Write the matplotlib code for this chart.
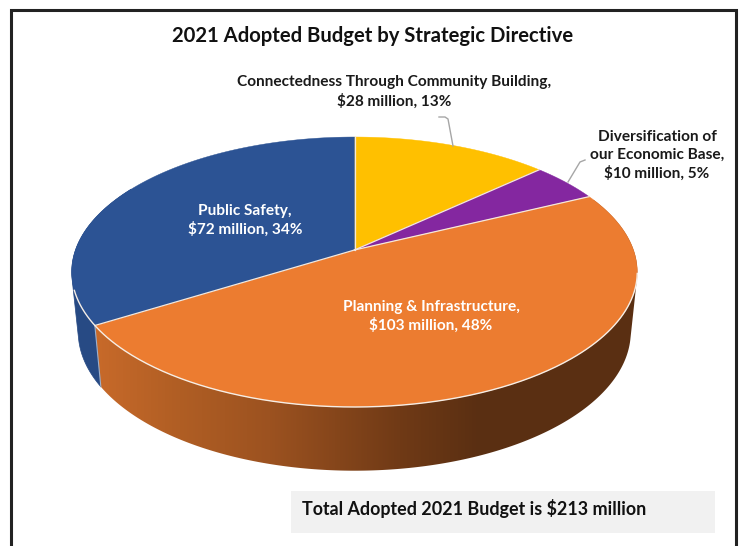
"""2021 adopted budget pie, drawn as a tilted 3D pie by hand (matplotlib has no 3D pie)."""

import matplotlib
matplotlib.use("Agg")
import matplotlib.pyplot as plt
from matplotlib.patches import Polygon, Rectangle
import numpy as np

plt.rcParams.update({
    "font.family": ["Lato", "DejaVu Sans"],
    "font.weight": "bold",
})

# data, clockwise from 12 o'clock
names = ["Connectedness Through Community Building",
         "Diversification of\nour Economic Base",
         "Planning & Infrastructure",
         "Public Safety"]
millions = [28, 10, 103, 72]
percents = [13, 5, 48, 34]
top_colors = ["#FFC000", "#8427A0", "#EC7C30", "#2C5394"]
blue_side = "#274A84"

# orange side gets a left to right shading
grad_x = [95, 180, 270, 400, 480, 640]
grad_r = [200, 176, 156, 112, 90, 90]
grad_g = [106, 94, 82, 58, 47, 47]
grad_b = [42, 36, 32, 22, 18, 18]

# projection of the unit circle, fitted on the picture
CX, CY = 354.5, 250
A, B, K = 279, 131.4, 0.163
# bottom rim
SX, SY, Y0 = 0.977, 1.03, 309


def top_pts(theta):
    u, v = np.sin(theta), np.cos(theta)
    d = 1 + K * v
    return CX + A * u / d, CY - B * v / d


def bottom_pts(theta):
    u, v = np.sin(theta), np.cos(theta)
    d = 1 + K * v
    return CX + SX * A * u / d, Y0 - SY * B * v / d


def hull(pts):
    # monotone chain, the part above the rim is covered by the top face anyway
    pts = sorted(set(pts))

    def half(seq):
        out = []
        for p in seq:
            while len(out) > 1 and ((out[-1][0] - out[-2][0]) * (p[1] - out[-2][1])
                                    - (out[-1][1] - out[-2][1]) * (p[0] - out[-2][0])) <= 0:
                out.pop()
            out.append(p)
        return out[:-1]

    return half(pts) + half(pts[::-1])


def wall(t0, t1):
    th = np.linspace(t0, t1, 300)
    xt, yt = top_pts(th)
    xb, yb = bottom_pts(th)
    return hull(list(zip(xt, yt)) + list(zip(xb, yb)))


fig = plt.figure(figsize=(7.42, 5.46), dpi=100)
ax = fig.add_axes([0, 0, 1, 1])

# chart frame (open at the bottom, cropped in the source)
ax.plot([11, 11, 736, 736], [546, 10, 10, 546], color="#222222", lw=2.2,
        solid_joinstyle="miter")

total = sum(millions)
edges = 2 * np.pi * np.cumsum([0] + millions) / total

# side walls first: blue flat, orange with the gradient clipped to the wall
ax.add_patch(Polygon(wall(edges[3], np.radians(300)), closed=True,
                     fc=blue_side, ec=blue_side, lw=0.5, zorder=2))

xs = np.arange(60, 660)
shade = np.dstack([np.interp(xs, grad_x, grad_r),
                   np.interp(xs, grad_x, grad_g),
                   np.interp(xs, grad_x, grad_b)]).astype(np.uint8)
orange_wall = Polygon(wall(edges[2], edges[3]), closed=True, transform=ax.transData,
                      fc="none", ec="none")
ax.add_patch(orange_wall)
img = ax.imshow(shade, extent=(60, 660, 480, 200), aspect="auto", zorder=2,
                interpolation="bilinear")
img.set_clip_path(orange_wall)

# wall seam between blue and orange
sx0, sy0 = top_pts(edges[3])
sx1, sy1 = bottom_pts(edges[3])
ax.plot([sx0, sx1], [sy0, sy1], color="#9DB0CC", lw=0.8, zorder=3)

# top faces
for i in range(len(millions)):
    th = np.linspace(edges[i], edges[i + 1], 200)
    px, py = top_pts(th)
    ax.add_patch(Polygon([(CX, CY)] + list(zip(px, py)), closed=True,
                         fc=top_colors[i], ec=top_colors[i], lw=0.3, zorder=4))

# pale seams on the top face and the front rim only
for e in edges[:4]:
    ex, ey = top_pts(e)
    ax.plot([CX, ex], [CY, ey], color="#F4E8DC", lw=0.9, zorder=5)
rx, ry = top_pts(np.linspace(np.radians(100), np.radians(253), 300))
ax.plot(rx, ry, color="#F6EEE6", lw=1.0, zorder=5)

# leader lines
ax.plot([439, 445, 448, 453], [117, 117, 119, 146], color="#A6A6A6", lw=1.0, zorder=5)
ax.plot([585, 580, 568], [160, 162, 182], color="#A6A6A6", lw=1.0, zorder=5)

ax.text(373, 36, "2021 Adopted Budget by Strategic Directive", ha="center",
        va="center", fontsize=14.6, color="#111111")

label_pos = [(394.5, 92), (657, 155.5), (431, 316.5), (245, 220.5)]
label_col = ["#1A1A1A", "#1A1A1A", "white", "white"]
for name, m, p, (lx, ly), c in zip(names, millions, percents, label_pos, label_col):
    ax.text(lx, ly, f"{name},\n${m} million, {p}%", ha="center", va="center",
            fontsize=11.1, color=c, linespacing=1.33, zorder=6)

# total box
ax.add_patch(Rectangle((291, 491), 424, 42, fc="#F1F1F1", ec="none"))
ax.text(302, 508, f"Total Adopted 2021 Budget is ${total} million", ha="left",
        va="center", fontsize=12.9, color="#111111")

ax.set_xlim(0, 742)
ax.set_ylim(546, 0)
ax.axis("off")

fig.savefig("out.png", dpi=100)
